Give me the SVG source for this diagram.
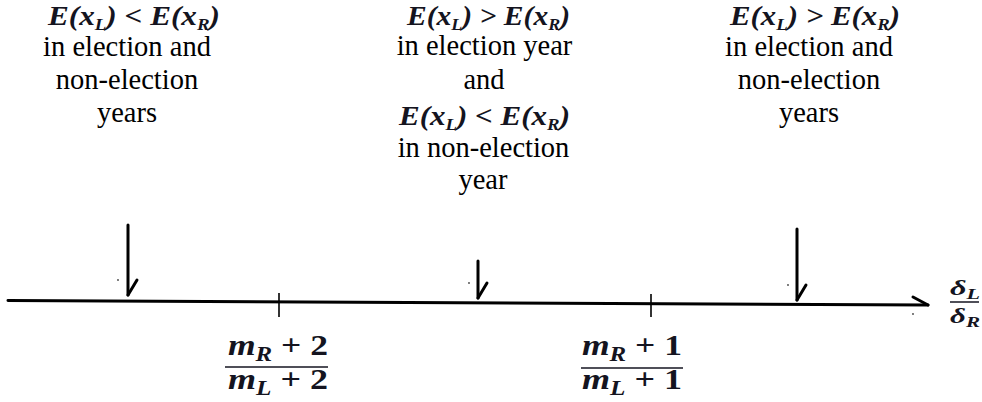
<svg xmlns="http://www.w3.org/2000/svg" width="982" height="402" viewBox="0 0 982 402">
<style>
text{font-family:'Liberation Serif','Times New Roman',serif}
.t{font-size:28.5px;fill:#000;text-anchor:middle}
.m{font-size:28px;font-style:italic;font-weight:bold;fill:#141420}
.f{font-size:30px;font-style:italic;font-weight:bold;fill:#141420}
.up{font-style:normal}
.ln{stroke:#000;stroke-width:3;stroke-linecap:round;fill:none}
.tk{stroke:#000;stroke-width:1.6;fill:none}
.fl{stroke:#141420;stroke-width:1.5;fill:none}
.dot{fill:#444}
</style>
<rect width="982" height="402" fill="#fff"/>
<g id="label-left">
<text class="m" x="48" y="25" textLength="172" lengthAdjust="spacingAndGlyphs">E(x<tspan dy="5" font-size="17">L</tspan><tspan dy="-5">) &lt; E(x</tspan><tspan dy="5" font-size="17">R</tspan><tspan dy="-5">)</tspan></text>
<text class="t" x="127" y="56">in election and</text>
<text class="t" x="127" y="89">non-election</text>
<text class="t" x="127" y="122">years</text>
</g>
<g id="label-middle">
<text class="m" x="407" y="25" textLength="163" lengthAdjust="spacingAndGlyphs">E(x<tspan dy="5" font-size="17">L</tspan><tspan dy="-5">) &gt; E(x</tspan><tspan dy="5" font-size="17">R</tspan><tspan dy="-5">)</tspan></text>
<text class="t" x="484.5" y="55">in election year</text>
<text class="t" x="484" y="89">and</text>
<text class="m" x="399" y="125" textLength="171" lengthAdjust="spacingAndGlyphs">E(x<tspan dy="5" font-size="17">L</tspan><tspan dy="-5">) &lt; E(x</tspan><tspan dy="5" font-size="17">R</tspan><tspan dy="-5">)</tspan></text>
<text class="t" x="483.5" y="157">in non-election</text>
<text class="t" x="483" y="189">year</text>
</g>
<g id="label-right">
<text class="m" x="730" y="25" textLength="170" lengthAdjust="spacingAndGlyphs">E(x<tspan dy="5" font-size="17">L</tspan><tspan dy="-5">) &gt; E(x</tspan><tspan dy="5" font-size="17">R</tspan><tspan dy="-5">)</tspan></text>
<text class="t" x="809" y="56">in election and</text>
<text class="t" x="809" y="89">non-election</text>
<text class="t" x="809" y="122">years</text>
</g>
<g id="axis">
<line class="ln" x1="8" y1="300.6" x2="928" y2="305"/>
<line class="ln" x1="913" y1="297" x2="928" y2="305"/>
<circle class="dot" cx="913" cy="314" r="0.9"/>
</g>
<g id="ticks">
<line class="tk" x1="279" y1="293" x2="279" y2="317"/>
<line class="tk" x1="651" y1="294" x2="651" y2="317"/>
</g>
<g id="tick-label-1">
<text class="f" x="228" y="355" textLength="100" lengthAdjust="spacingAndGlyphs">m<tspan dy="6" font-size="21">R</tspan><tspan dy="-6" class="up"> + 2</tspan></text>
<line class="fl" x1="225" y1="367" x2="328" y2="367"/>
<text class="f" x="228" y="389" textLength="100" lengthAdjust="spacingAndGlyphs">m<tspan dy="6" font-size="21">L</tspan><tspan dy="-6" class="up"> + 2</tspan></text>
</g>
<g id="tick-label-2">
<text class="f" x="582" y="355" textLength="100" lengthAdjust="spacingAndGlyphs">m<tspan dy="6" font-size="21">R</tspan><tspan dy="-6" class="up"> + 1</tspan></text>
<line class="fl" x1="581" y1="368" x2="683" y2="368"/>
<text class="f" x="582" y="389" textLength="100" lengthAdjust="spacingAndGlyphs">m<tspan dy="6" font-size="21">L</tspan><tspan dy="-6" class="up"> + 1</tspan></text>
</g>
<g id="axis-label">
<text class="m" x="950" y="295" textLength="30" lengthAdjust="spacingAndGlyphs" style="font-size:22px">δ<tspan dy="4" style="font-size:15px">L</tspan></text>
<line class="fl" x1="950" y1="302" x2="979" y2="302"/>
<text class="m" x="950" y="323" textLength="30" lengthAdjust="spacingAndGlyphs" style="font-size:22px">δ<tspan dy="4" style="font-size:15px">R</tspan></text>
</g>
<g id="connectors">
<line class="ln" x1="128" y1="225" x2="128" y2="295"/>
<line class="ln" x1="137" y1="280" x2="128" y2="295"/>
<circle class="dot" cx="118" cy="280" r="0.9"/>
<line class="ln" x1="478" y1="261" x2="478" y2="298"/>
<line class="ln" x1="487" y1="283" x2="478" y2="298"/>
<circle class="dot" cx="469" cy="283" r="0.9"/>
<line class="ln" x1="797" y1="229" x2="797" y2="300"/>
<line class="ln" x1="806" y1="285" x2="797" y2="300"/>
<circle class="dot" cx="788" cy="285" r="0.9"/>
</g>
</svg>
